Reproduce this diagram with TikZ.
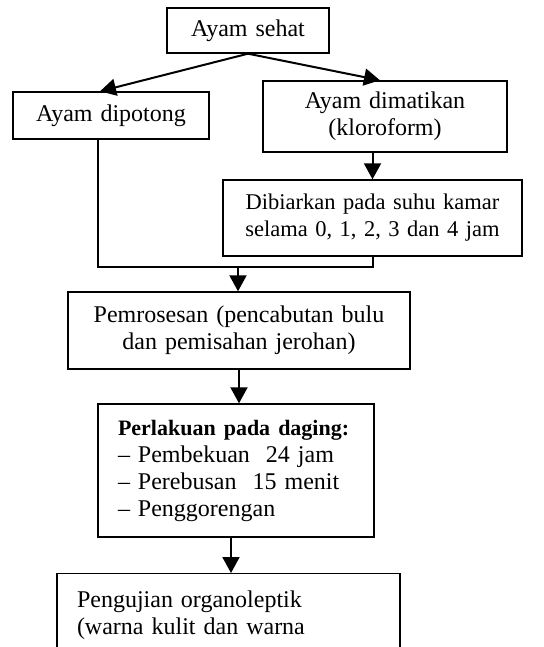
\documentclass[tikz,border=0pt]{standalone}
\usepackage{fontspec}
\setmainfont{Liberation Serif}
\usetikzlibrary{arrows.meta,calc}
\begin{document}
\begin{tikzpicture}[x=1pt,y=-1pt,
  box/.style={draw, line width=1.4pt, inner xsep=0pt, inner ysep=2pt, align=center,
    font=\fontsize{24}{27}\selectfont},
  lbox/.style={box, align=left, inner xsep=20pt},
  arr/.style={line width=2pt, -{Triangle[width=17pt,length=16pt]}},
  conn/.style={line width=2pt}]
\useasboundingbox (0,0) rectangle (543,647);
\clip (0,0) rectangle (543,647);
\node[box, minimum width=162, minimum height=45, text width=158] (sehat) at (248,30.5) {Ayam sehat};
\node[box, minimum width=196, minimum height=47, text width=192] (dipotong) at (111,115.5) {Ayam dipotong};
\node[box, minimum width=244, minimum height=71, text width=240] (dimatikan) at (385,116.5) {Ayam dimatikan\\(kloroform)};
\node[box, minimum width=299, minimum height=76, text width=296, font=\fontsize{22.5}{27}\selectfont] (dibiarkan) at (372.5,218) {Dibiarkan pada suhu kamar\\selama 0, 1, 2, 3 dan 4 jam};
\node[box, minimum width=342, minimum height=77, text width=338] (pemrosesan) at (239,330.5) {Pemrosesan (pencabutan bulu\\dan pemisahan jerohan)};
\node[lbox, minimum width=276, minimum height=133, text width=236] (perlakuan) at (236,470.5) {\mbox{\fontsize{22}{27}\selectfont\bfseries Perlakuan pada daging:}\\-- Pembekuan\ \ 24 jam\\-- Perebusan\ \ 15 menit\\-- Penggorengan};
\node[lbox, minimum width=343, minimum height=84, text width=303, anchor=north] (pengujian) at (228.5,573) {Pengujian organoleptik\\(warna kulit dan warna};
\coordinate (merge) at ($(pemrosesan.north)+(-1,-24)$);
\coordinate (pk) at ($(perlakuan.south)+(-5,0)$);
\draw[arr] (sehat.south) -- ($(dipotong.north)+(-11,0)$);
\draw[arr] (sehat.south) -- ($(dimatikan.north)+(-5,0)$);
\draw[arr] (dimatikan.south -| dibiarkan.north) -- (dibiarkan.north);
\draw[conn] ($(dipotong.south)+(-13,0)$) |- (merge) -| (dibiarkan.south);
\draw[arr] (merge) -- (merge |- pemrosesan.north);
\draw[arr] (pemrosesan.south) -- (pemrosesan.south |- perlakuan.north);
\draw[arr] (pk) -- (pk |- pengujian.north);
\end{tikzpicture}
\end{document}
